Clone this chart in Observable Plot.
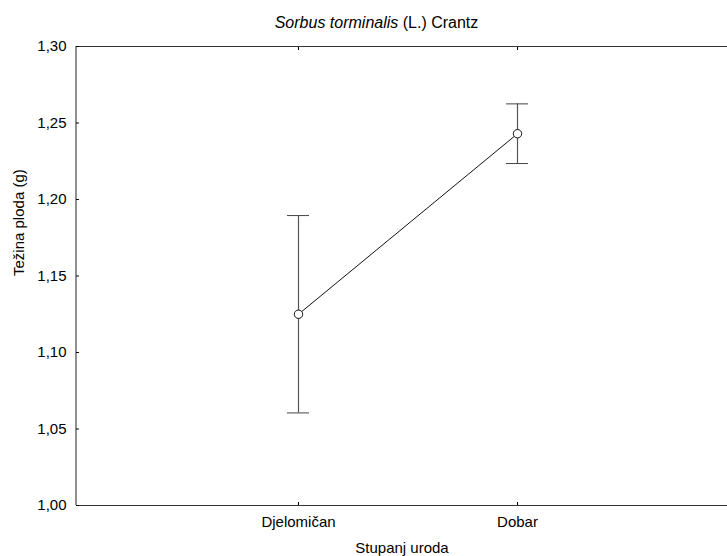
<!DOCTYPE html>
<html>
<head>
<meta charset="utf-8">
<script src="https://cdn.jsdelivr.net/npm/d3@7"></script>
<script src="https://cdn.jsdelivr.net/npm/@observablehq/plot@0.6"></script>
<style>
  html, body { margin: 0; padding: 0; background: #fff; overflow: hidden; }
  #title {
    box-sizing: border-box; width: 727px; height: 34px; padding-top: 14px; padding-left: 26px;
    text-align: center; font: 16px/18px "Liberation Sans", Arial, sans-serif; color: #000;
  }
  svg { display: block; }
</style>
</head>
<body>
<div id="title"><i>Sorbus torminalis</i> (L.) Crantz</div>
<div id="chart"></div>
<script>
const categories = ["Djelomičan", "Dobar"];
const means = [1.125, 1.243];
const lower = [1.0605, 1.2235];
const upper = [1.1895, 1.2625];
const yTicks = [1.00, 1.05, 1.10, 1.15, 1.20, 1.25, 1.30];
const yDomain = [1.00, 1.30];
const xTitle = "Stupanj uroda";
const yTitle = "Težina ploda (g)";

const data = categories.map((c, i) => ({cat: c, mean: means[i], lo: lower[i], hi: upper[i]}));
const fmt = d => d.toFixed(2).replace(".", ",");

// left edge of the plot frame only (the original has no right border)
function leftEdge(index, scales, values, dims) {
  return d3.create("svg:line")
    .attr("x1", dims.marginLeft).attr("x2", dims.marginLeft)
    .attr("y1", dims.marginTop).attr("y2", dims.height - dims.marginBottom)
    .attr("stroke", "#222").node();
}

const chart = Plot.plot({
  width: 727,
  height: 522,
  marginLeft: 76,
  marginRight: 0,
  marginTop: 12,
  marginBottom: 51,
  style: {fontFamily: '"Liberation Sans", Arial, sans-serif', fontSize: "15px", color: "#000", background: "#fff"},
  x: {type: "point", domain: categories, padding: 0.98, align: 0.513},
  y: {domain: yDomain},
  marks: [
    leftEdge,
    Plot.ruleY([yDomain[0], yDomain[1]], {stroke: "#333", strokeWidth: 1.2}),
    Plot.axisY(yTicks, {tickSize: -3, tickPadding: 13, tickFormat: fmt, label: null, fontSize: 15, fill: "#000"}),
    Plot.axisX({anchor: "bottom", tickSize: -3, tickPadding: 13.5, label: null, fontSize: 15, fill: "#000"}),
    Plot.axisX({anchor: "top", tickSize: -3, tickFormat: () => "", label: null}),
    Plot.ruleX(data, {x: "cat", y1: "lo", y2: "hi", stroke: "#555", strokeWidth: 1.2}),
    Plot.ruleY(data, {x1: "cat", x2: "cat", y: "hi", stroke: "#444", insetLeft: -11, insetRight: -11}),
    Plot.ruleY(data, {x1: "cat", x2: "cat", y: "lo", stroke: "#444", insetLeft: -11, insetRight: -11}),
    Plot.line(data, {x: "cat", y: "mean", stroke: "#111", strokeWidth: 1}),
    Plot.dot(data, {x: "cat", y: "mean", r: 4.2, fill: "#fff", stroke: "#111", strokeWidth: 1}),
    Plot.text([yTitle], {frameAnchor: "left", rotate: -90, dx: -57.5, fontSize: 15, fill: "#000"}),
    Plot.text([xTitle], {frameAnchor: "bottom", dy: 47, fontSize: 15, fill: "#000"})
  ]
});
document.getElementById("chart").appendChild(chart);
</script>
</body>
</html>
